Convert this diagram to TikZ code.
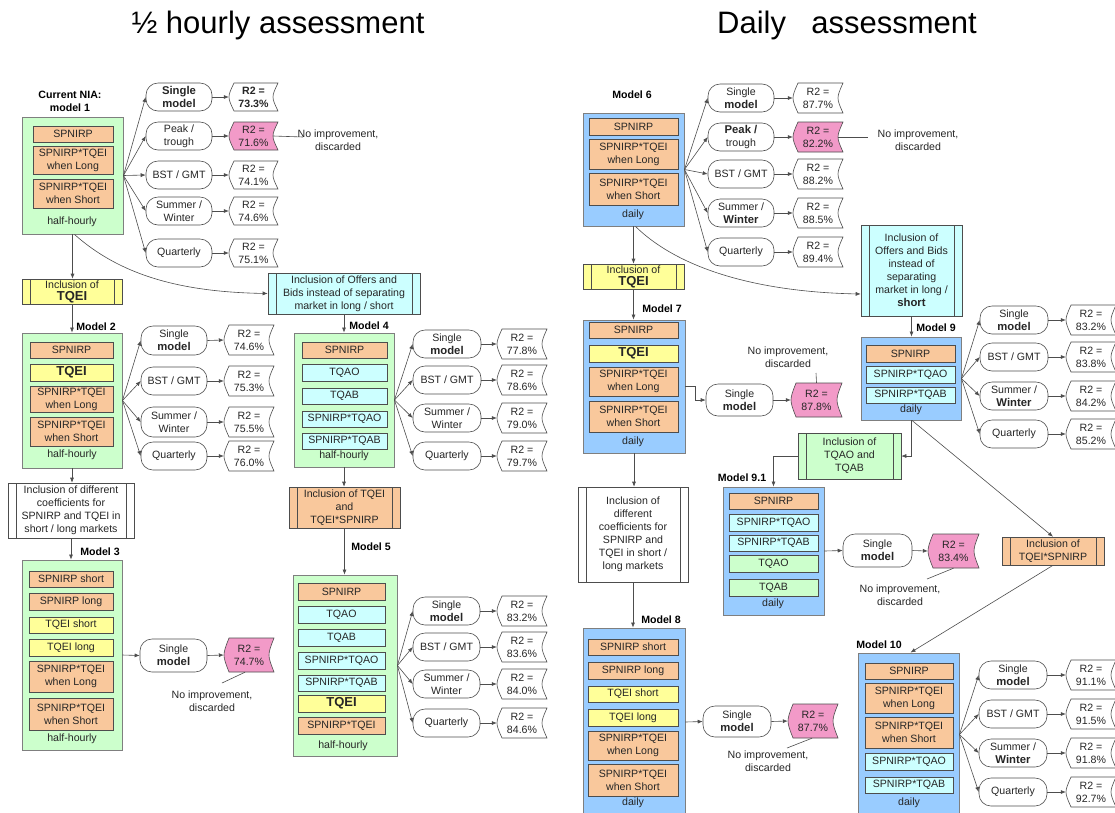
\documentclass[tikz,border=0pt]{standalone}
\usepackage{fontspec}
\setmainfont{Liberation Sans}
\usetikzlibrary{arrows.meta}
\definecolor{cgreen}{HTML}{CCFFCC}
\definecolor{cblue}{HTML}{99CCFF}
\definecolor{corange}{HTML}{F9C89C}
\definecolor{cyellow}{HTML}{FFFF99}
\definecolor{ccyan}{HTML}{CCFFFF}
\definecolor{cpink}{HTML}{F29AC8}
\definecolor{bgray}{HTML}{7F7F7F}
\definecolor{dgray}{HTML}{4D4D4D}
\definecolor{txt}{HTML}{262626}
\newcommand\fsz{\fontsize{10.6}{13}\selectfont}
\newcommand\bmw[1]{{\fontsize{11.3}{13}\selectfont\bfseries #1}}
\newcommand\tqei{{\fontsize{13}{14}\selectfont\bfseries TQEI}}
\newcommand\mkbox[7]{%
  \pgfmathsetmacro\mkX{(#3+#5)/2}%
  \pgfmathsetmacro\mkY{(#4+#6)/2}%
  \pgfmathsetmacro\mkW{#5-#3}%
  \pgfmathsetmacro\mkH{#6-#4}%
  \node[#2,minimum width=\mkW pt,minimum height=\mkH pt] (#1) at (\mkX,\mkY) {#7};}
% name, x0, x1, yc, halfheight, fill, text
\newcommand\rtwo[7]{%
  \pgfmathsetmacro\rA{#4-#5}%
  \pgfmathsetmacro\rB{#4+#5}%
  \pgfmathsetmacro\rL{#2+5}%
  \pgfmathsetmacro\rLc{#2-1.667}%
  \pgfmathsetmacro\rRc{#3-6.667}%
  \filldraw[fill=#6,draw=dgray,line width=0.6pt] (\rL,\rA) -- (#3,\rA) .. controls (\rRc,#4) .. (#3,\rB) -- (\rL,\rB) .. controls (\rLc,#4) .. (\rL,\rA) -- cycle;
  \mkbox{#1}{rtxt}{#2}{\rA}{#3}{\rB}{#7}}
\tikzset{
  mdl/.style={draw=bgray,line width=0.9pt,inner sep=0},
  itm/.style={draw=dgray,line width=0.6pt,inner sep=0,align=center,font=\fsz,text=txt},
  ovl/.style={draw=dgray,line width=0.6pt,inner sep=0,rounded corners=12pt,align=center,font=\fsz,text=txt,fill=white},
  rtxt/.style={inner sep=0,align=center,font=\fsz,text=txt},
  proc/.style={draw=dgray,line width=0.6pt,inner sep=0,align=center,font=\fsz,text=txt,
    path picture={\draw[dgray,line width=0.6pt]
      ([xshift=8pt]path picture bounding box.north west) -- ([xshift=8pt]path picture bounding box.south west)
      ([xshift=-8pt]path picture bounding box.north east) -- ([xshift=-8pt]path picture bounding box.south east);}},
  note/.style={align=center,font=\fsz,text=txt,inner sep=0},
  mlab/.style={align=center,font=\fsz\bfseries,text=black,inner sep=0},
  sub/.style={font=\fsz,text=txt,inner sep=0},
  arr/.style={draw=dgray,line width=0.6pt,-{Latex[length=5pt,width=4pt]}},
  ln/.style={draw=dgray,line width=0.6pt},
}
\begin{document}
\begin{tikzpicture}[x=1pt,y=-1pt]
\fill[white] (0,0) rectangle (1115,812);
\useasboundingbox (0,0) rectangle (1115,812);

% titles
\node[font=\fontsize{31}{36}\selectfont,text=black] (title1) at (278,25) {½ hourly assessment};
\node[font=\fontsize{31}{36}\selectfont,text=black] (title2) at (847,25) {Daily\hspace{0.82em}assessment};

% ================= MODEL 1 =================
\node[mlab] (l1) at (70,101) {Current NIA:\\model 1};
\mkbox{m1}{mdl,fill=cgreen}{22}{117}{123}{234}{}
\mkbox{i11}{itm,fill=corange}{33}{126}{113}{142}{SPNIRP}
\mkbox{i12}{itm,fill=corange}{33}{146}{113}{174}{SPNIRP*TQEI\\when Long}
\mkbox{i13}{itm,fill=corange}{33}{179}{113}{208}{SPNIRP*TQEI\\when Short}
\node[sub] (h1) at (72,222) {half-hourly};
\mkbox{o11}{ovl}{146}{83}{212}{111}{\bmw{Single}\\\bmw{model}}
\mkbox{o12}{ovl}{146}{122}{212}{150}{Peak /\\trough}
\mkbox{o13}{ovl}{146}{161}{212}{189}{BST / GMT}
\mkbox{o14}{ovl}{146}{197}{212}{225}{Summer /\\Winter}
\mkbox{o15}{ovl}{146}{239}{212}{267}{Quarterly}
\rtwo{r11}{229}{278}{97}{14}{white}{\textbf{R2 =}\\\textbf{73.3\%}}
\rtwo{r12}{229}{278}{136}{14}{cpink}{R2 =\\71.6\%}
\rtwo{r13}{229}{278}{175}{14}{white}{R2 =\\74.1\%}
\rtwo{r14}{229}{278}{211}{14}{white}{R2 =\\74.6\%}
\rtwo{r15}{229}{278}{253}{14}{white}{R2 =\\75.1\%}
\foreach \o/\r in {o11/r11,o12/r12,o13/r13,o14/r14,o15/r15}{
  \draw[arr] (m1.east) -- (\o.west);
  \draw[arr] (\o.east) -- (\r.west);}
\coordinate (d1e) at (303,137);
\draw[ln] ([xshift=-5pt]r12.east) -- (d1e);
\node[note] (n1) at (338,140) {No improvement,\\discarded};

% inclusion of TQEI
\mkbox{t1}{proc,fill=cyellow}{22}{279}{122}{304}{Inclusion of\\[-1pt]\tqei}
\draw[arr] (m1.south) -- (m1.south |- t1.north);
% offers and bids
\mkbox{ob1}{proc,fill=ccyan}{268}{273}{420}{314}{Inclusion of Offers and\\Bids instead of separating\\market in long / short}
\draw[arr] ([xshift=2pt]m1.south) .. controls (120,275) and (180,292) .. (ob1.west);

% ================= MODEL 2 =================
\node[mlab] (l2) at (96,327) {Model 2};
\mkbox{m2}{mdl,fill=cgreen}{22}{333}{122}{468}{}
\draw[arr] (t1.south) -- (t1.south |- m2.north);
\mkbox{i21}{itm,fill=corange}{30}{342}{113}{358}{SPNIRP}
\mkbox{i22}{itm,fill=cyellow}{30}{364}{113}{381}{\tqei}
\mkbox{i23}{itm,fill=corange}{30}{386}{113}{412}{SPNIRP*TQEI\\when Long}
\mkbox{i24}{itm,fill=corange}{30}{417}{113}{446}{SPNIRP*TQEI\\when Short}
\node[sub] (h2) at (72,455) {half-hourly};
\mkbox{o21}{ovl}{141}{326}{207}{355}{Single\\\bmw{model}}
\mkbox{o22}{ovl}{141}{367}{207}{395}{BST / GMT}
\mkbox{o23}{ovl}{141}{407}{207}{437}{Summer /\\Winter}
\mkbox{o24}{ovl}{141}{442}{207}{470}{Quarterly}
\rtwo{r21}{224}{274}{340}{15}{white}{R2 =\\74.6\%}
\rtwo{r22}{224}{274}{381}{15}{white}{R2 =\\75.3\%}
\rtwo{r23}{224}{274}{422}{15}{white}{R2 =\\75.5\%}
\rtwo{r24}{224}{274}{456}{15}{white}{R2 =\\76.0\%}
\foreach \o/\r in {o21/r21,o22/r22,o23/r23,o24/r24}{
  \draw[arr] (m2.east) -- (\o.west);
  \draw[arr] (\o.east) -- (\r.west);}

% inclusion of different coefficients
\mkbox{dc1}{proc,fill=white}{8}{483}{134}{538}{Inclusion of different\\coefficients for\\SPNIRP and TQEI in\\short / long markets}
\draw[arr] (m2.south) -- (m2.south |- dc1.north);

% ================= MODEL 3 =================
\node[mlab] (l3) at (100,552) {Model 3};
\mkbox{m3}{mdl,fill=cgreen}{22}{560}{122}{750}{}
\draw[arr] (dc1.south) -- (dc1.south |- m3.north);
\mkbox{i31}{itm,fill=corange}{29}{571}{113}{587}{SPNIRP short}
\mkbox{i32}{itm,fill=corange}{29}{593}{113}{610}{SPNIRP long}
\mkbox{i33}{itm,fill=cyellow}{29}{617}{113}{633}{TQEI short}
\mkbox{i34}{itm,fill=cyellow}{29}{639}{113}{656}{TQEI long}
\mkbox{i35}{itm,fill=corange}{29}{661}{113}{692}{SPNIRP*TQEI\\when Long}
\mkbox{i36}{itm,fill=corange}{29}{698}{113}{730}{SPNIRP*TQEI\\when Short}
\node[sub] (h3) at (72,739) {half-hourly};
\mkbox{o31}{ovl}{140}{639}{207}{672}{Single\\\bmw{model}}
\rtwo{r31}{224}{274}{655}{17}{cpink}{R2 =\\74.7\%}
\draw[arr] (m3.east) -- (o31.west);
\draw[arr] (o31.east) -- (r31.west);
\coordinate (d3e) at (222,683);
\draw[ln] ([xshift=-4pt]r31.south) -- (d3e);
\node[note] (n3) at (212,701) {No improvement,\\discarded};

% ================= MODEL 4 =================
\node[mlab] (l4) at (369,326) {Model 4};
\mkbox{m4}{mdl,fill=cgreen}{294}{333}{394}{467}{}
\draw[arr] (ob1.south) -- (ob1.south |- m4.north);
\mkbox{i41}{itm,fill=corange}{302}{342}{387}{358}{SPNIRP}
\mkbox{i42}{itm,fill=ccyan}{302}{364}{387}{381}{TQAO}
\mkbox{i43}{itm,fill=ccyan}{302}{388}{387}{404}{TQAB}
\mkbox{i44}{itm,fill=ccyan}{302}{411}{387}{427}{SPNIRP*TQAO}
\mkbox{i45}{itm,fill=ccyan}{302}{433}{387}{449}{SPNIRP*TQAB}
\node[sub] (h4) at (344,456) {half-hourly};
\mkbox{o41}{ovl}{413}{330}{481}{358}{Single\\\bmw{model}}
\mkbox{o42}{ovl}{413}{366}{481}{394}{BST / GMT}
\mkbox{o43}{ovl}{413}{404}{481}{432}{Summer /\\Winter}
\mkbox{o44}{ovl}{413}{442}{481}{470}{Quarterly}
\rtwo{r41}{497}{547}{344}{15}{white}{R2 =\\77.8\%}
\rtwo{r42}{497}{547}{380}{15}{white}{R2 =\\78.6\%}
\rtwo{r43}{497}{547}{418}{15}{white}{R2 =\\79.0\%}
\rtwo{r44}{497}{547}{456}{15}{white}{R2 =\\79.7\%}
\foreach \o/\r in {o41/r41,o42/r42,o43/r43,o44/r44}{
  \draw[arr] (m4.east) -- (\o.west);
  \draw[arr] (\o.east) -- (\r.west);}

\mkbox{tb}{proc,fill=corange}{289}{487}{400}{528}{Inclusion of TQEI\\and\\TQEI*SPNIRP}
\draw[arr] (m4.south) -- (m4.south |- tb.north);

% ================= MODEL 5 =================
\node[mlab] (l5) at (371,547) {Model 5};
\mkbox{m5}{mdl,fill=cgreen}{293}{575}{397}{756}{}
\draw[arr] (tb.south) -- (tb.south |- m5.north);
\mkbox{i51}{itm,fill=corange}{298}{583}{385}{600}{SPNIRP}
\mkbox{i52}{itm,fill=ccyan}{298}{606}{385}{623}{TQAO}
\mkbox{i53}{itm,fill=ccyan}{298}{629}{385}{646}{TQAB}
\mkbox{i54}{itm,fill=ccyan}{298}{652}{385}{669}{SPNIRP*TQAO}
\mkbox{i55}{itm,fill=ccyan}{298}{675}{385}{691}{SPNIRP*TQAB}
\mkbox{i56}{itm,fill=cyellow}{298}{695}{385}{712}{\tqei}
\mkbox{i57}{itm,fill=corange}{298}{717}{385}{734}{SPNIRP*TQEI}
\node[sub] (h5) at (343,746) {half-hourly};
\mkbox{o51}{ovl}{413}{597}{480}{625}{Single\\\bmw{model}}
\mkbox{o52}{ovl}{413}{633}{480}{661}{BST / GMT}
\mkbox{o53}{ovl}{413}{670}{480}{698}{Summer /\\Winter}
\mkbox{o54}{ovl}{413}{709}{480}{737}{Quarterly}
\rtwo{r51}{497}{547}{611}{15}{white}{R2 =\\83.2\%}
\rtwo{r52}{497}{547}{647}{15}{white}{R2 =\\83.6\%}
\rtwo{r53}{497}{547}{684}{15}{white}{R2 =\\84.0\%}
\rtwo{r54}{497}{547}{723}{15}{white}{R2 =\\84.6\%}
\foreach \o/\r in {o51/r51,o52/r52,o53/r53,o54/r54}{
  \draw[arr] (m5.east) -- (\o.west);
  \draw[arr] (\o.east) -- (\r.west);}

% ================= MODEL 6 =================
\node[mlab] (l6) at (632,95) {Model 6};
\mkbox{m6}{mdl,fill=cblue}{583}{113}{684}{226}{}
\mkbox{i61}{itm,fill=corange}{589}{118}{678}{135}{SPNIRP}
\mkbox{i62}{itm,fill=corange}{589}{139}{678}{169}{SPNIRP*TQEI\\when Long}
\mkbox{i63}{itm,fill=corange}{589}{173}{678}{205}{SPNIRP*TQEI\\when Short}
\node[sub] (h6) at (633,215) {daily};
\mkbox{o61}{ovl}{708}{84}{774}{112}{Single\\\bmw{model}}
\mkbox{o62}{ovl}{708}{123}{774}{151}{\bmw{Peak /}\\trough}
\mkbox{o63}{ovl}{708}{160}{774}{188}{BST / GMT}
\mkbox{o64}{ovl}{708}{199}{774}{227}{Summer /\\\bmw{Winter}}
\mkbox{o65}{ovl}{708}{238}{774}{266}{Quarterly}
\rtwo{r61}{793}{843}{98}{15}{white}{R2 =\\87.7\%}
\rtwo{r62}{793}{843}{137}{15}{cpink}{R2 =\\82.2\%}
\rtwo{r63}{793}{843}{174}{15}{white}{R2 =\\88.2\%}
\rtwo{r64}{793}{843}{213}{15}{white}{R2 =\\88.5\%}
\rtwo{r65}{793}{843}{252}{15}{white}{R2 =\\89.4\%}
\foreach \o/\r in {o61/r61,o62/r62,o63/r63,o64/r64,o65/r65}{
  \draw[arr] (m6.east) -- (\o.west);
  \draw[arr] (\o.east) -- (\r.west);}
\coordinate (d6e) at (868,137);
\draw[ln] ([xshift=-5pt]r62.east) -- (d6e);
\node[note] (n6) at (918,140) {No improvement,\\discarded};

\mkbox{t6}{proc,fill=cyellow}{583}{264}{684}{289}{Inclusion of\\[-1pt]\tqei}
\draw[arr] (m6.south) -- (m6.south |- t6.north);
\mkbox{ob2}{proc,fill=ccyan}{861}{225}{962}{316}{Inclusion of\\Offers and Bids\\instead of\\separating\\market in long /\\\bmw{short}}
\draw[arr] ([xshift=2pt]m6.south) .. controls (680,270) and (760,292) .. ([yshift=-23.5pt]ob2.west);

% ================= MODEL 7 =================
\node[mlab] (l7) at (662,309) {Model 7};
\mkbox{m7}{mdl,fill=cblue}{583}{320}{685}{453}{}
\draw[arr] (t6.south) -- (t6.south |- m7.north);
\mkbox{i71}{itm,fill=corange}{589}{322}{678}{338}{SPNIRP}
\mkbox{i72}{itm,fill=cyellow}{589}{345}{678}{362}{\tqei}
\mkbox{i73}{itm,fill=corange}{589}{367}{678}{396}{SPNIRP*TQEI\\when Long}
\mkbox{i74}{itm,fill=corange}{589}{401}{678}{432}{SPNIRP*TQEI\\when Short}
\node[sub] (h7) at (633,442) {daily};
\mkbox{o71}{ovl}{706}{384}{773}{416}{Single\\\bmw{model}}
\rtwo{r71}{791}{842}{400}{17}{cpink}{R2 =\\87.8\%}
\coordinate (m7o) at (685,386);
\draw[arr] (m7o) -- ++(10,0) |- (o71.west);
\draw[arr] (o71.east) -- (r71.west);
\coordinate (d7e) at (816,373);
\draw[ln] (r71.north) -- (d7e);
\node[note] (n7) at (788,357) {No improvement,\\discarded};

% ================= MODEL 8 =================
\mkbox{dc2}{proc,fill=white}{578}{487}{688}{582}{Inclusion of\\different\\coefficients for\\SPNIRP and\\TQEI in short /\\long markets}
\draw[arr] (m7.south) -- (m7.south |- dc2.north);
\node[mlab] (l8) at (661,620) {Model 8};
\mkbox{m8}{mdl,fill=cblue}{583}{628}{685}{816}{}
\draw[arr] (dc2.south) -- (dc2.south |- m8.north);
\mkbox{i81}{itm,fill=corange}{588}{639}{678}{655}{SPNIRP short}
\mkbox{i82}{itm,fill=corange}{588}{662}{678}{679}{SPNIRP long}
\mkbox{i83}{itm,fill=cyellow}{588}{686}{678}{702}{TQEI short}
\mkbox{i84}{itm,fill=cyellow}{588}{709}{678}{726}{TQEI long}
\mkbox{i85}{itm,fill=corange}{588}{731}{678}{760}{SPNIRP*TQEI\\when Long}
\mkbox{i86}{itm,fill=corange}{588}{764}{678}{796}{SPNIRP*TQEI\\when Short}
\node[sub] (h8) at (633,803) {daily};
\mkbox{o81}{ovl}{703}{706}{771}{737}{Single\\\bmw{model}}
\rtwo{r81}{788}{838}{721}{17}{cpink}{R2 =\\87.7\%}
\draw[arr] (m8.east) -- (o81.west);
\draw[arr] (o81.east) -- (r81.west);
\coordinate (d8e) at (787,748);
\draw[ln] ([xshift=-1pt]r81.south) -- (d8e);
\node[note] (n8) at (768,761) {No improvement,\\discarded};

% ================= MODEL 9 =================
\node[mlab] (l9) at (936,328) {Model 9};
\mkbox{m9}{mdl,fill=cblue}{861}{337}{961}{420}{}
\draw[arr] (ob2.south) -- (ob2.south |- m9.north);
\mkbox{i91}{itm,fill=corange}{866}{345}{955}{362}{SPNIRP}
\mkbox{i92}{itm,fill=ccyan}{866}{366}{955}{383}{SPNIRP*TQAO}
\mkbox{i93}{itm,fill=ccyan}{866}{387}{955}{403}{SPNIRP*TQAB}
\node[sub] (h9) at (911,410) {daily};
\mkbox{o91}{ovl}{980}{306}{1048}{334}{Single\\\bmw{model}}
\mkbox{o92}{ovl}{980}{343}{1048}{371}{BST / GMT}
\mkbox{o93}{ovl}{980}{382}{1048}{410}{Summer /\\\bmw{Winter}}
\mkbox{o94}{ovl}{980}{420}{1048}{448}{Quarterly}
\rtwo{r91}{1066}{1116}{320}{15}{white}{R2 =\\83.2\%}
\rtwo{r92}{1066}{1116}{357}{15}{white}{R2 =\\83.8\%}
\rtwo{r93}{1066}{1116}{396}{15}{white}{R2 =\\84.2\%}
\rtwo{r94}{1066}{1116}{434}{15}{white}{R2 =\\85.2\%}
\foreach \o/\r in {o91/r91,o92/r92,o93/r93,o94/r94}{
  \draw[arr] (m9.east) -- (\o.west);
  \draw[arr] (\o.east) -- (\r.west);}

% TQAO and TQAB inclusion
\mkbox{tq}{proc,fill=cgreen}{798}{433}{901}{479}{Inclusion of\\TQAO and\\TQAB}
\draw[arr] (m9.south) |- (tq.east);

% ================= MODEL 9.1 =================
\node[mlab] (l91) at (742,478) {Model 9.1};
\mkbox{m91}{mdl,fill=cblue}{723}{487}{824}{615}{}
\draw[arr] (tq.west) -| (m91.north);
\mkbox{a1}{itm,fill=corange}{729}{493}{818}{509}{SPNIRP}
\mkbox{a2}{itm,fill=ccyan}{729}{514}{818}{531}{SPNIRP*TQAO}
\mkbox{a3}{itm,fill=ccyan}{729}{535}{818}{551}{SPNIRP*TQAB}
\mkbox{a4}{itm,fill=cgreen}{729}{555}{818}{572}{TQAO}
\mkbox{a5}{itm,fill=cgreen}{729}{579}{818}{596}{TQAB}
\node[sub] (h91) at (773,604) {daily};
\mkbox{oa1}{ovl}{843}{534}{912}{567}{Single\\\bmw{model}}
\rtwo{ra1}{928}{979}{551}{17}{cpink}{R2 =\\83.4\%}
\draw[arr] (m91.east) -- (oa1.west);
\draw[arr] (oa1.east) -- (ra1.west);
\coordinate (d91e) at (927,579);
\draw[ln] (ra1.south) -- (d91e);
\node[note] (n91) at (900,595) {No improvement,\\discarded};

% TQEI*SPNIRP inclusion
\mkbox{te}{proc,fill=corange}{1002}{537}{1104}{565}{Inclusion of\\TQEI*SPNIRP}
\draw[arr] ([xshift=1pt]m9.south) -- (te.north);

% ================= MODEL 10 =================
\node[mlab] (l10) at (879,645) {Model 10};
\mkbox{m10}{mdl,fill=cblue}{858}{653}{959}{816}{}
\draw[arr] (te.south) -- ([xshift=2pt]m10.north);
\mkbox{b1}{itm,fill=corange}{865}{663}{953}{679}{SPNIRP}
\mkbox{b2}{itm,fill=corange}{865}{683}{953}{713}{SPNIRP*TQEI\\when Long}
\mkbox{b3}{itm,fill=corange}{865}{717}{953}{748}{SPNIRP*TQEI\\when Short}
\mkbox{b4}{itm,fill=ccyan}{865}{753}{953}{770}{SPNIRP*TQAO}
\mkbox{b5}{itm,fill=ccyan}{865}{777}{953}{793}{SPNIRP*TQAB}
\node[sub] (h10) at (909,803) {daily};
\mkbox{ob1x}{ovl}{979}{661}{1047}{689}{Single\\\bmw{model}}
\mkbox{ob2x}{ovl}{979}{700}{1047}{728}{BST / GMT}
\mkbox{ob3x}{ovl}{979}{739}{1047}{767}{Summer /\\\bmw{Winter}}
\mkbox{ob4x}{ovl}{979}{778}{1047}{806}{Quarterly}
\rtwo{rb1}{1066}{1116}{675}{15}{white}{R2 =\\91.1\%}
\rtwo{rb2}{1066}{1116}{714}{15}{white}{R2 =\\91.5\%}
\rtwo{rb3}{1066}{1116}{753}{15}{white}{R2 =\\91.8\%}
\rtwo{rb4}{1066}{1116}{792}{15}{white}{R2 =\\92.7\%}
\foreach \o/\r in {ob1x/rb1,ob2x/rb2,ob3x/rb3,ob4x/rb4}{
  \draw[arr] (m10.east) -- (\o.west);
  \draw[arr] (\o.east) -- (\r.west);}
\end{tikzpicture}
\end{document}
